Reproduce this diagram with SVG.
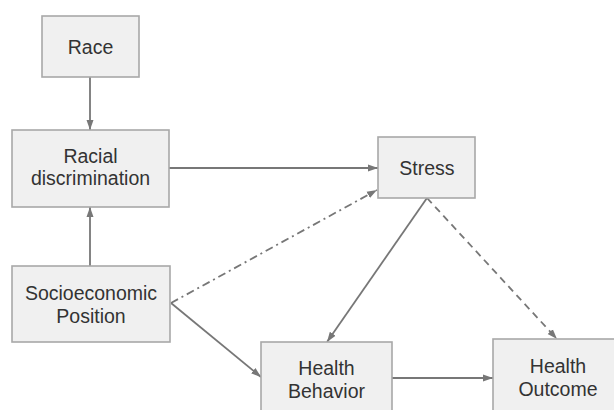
<svg xmlns="http://www.w3.org/2000/svg" width="614" height="410" viewBox="0 0 614 410">
<style>
.box{fill:#f0f0f0;stroke:#a8a8a8;stroke-width:1.6}
.lbl{font-family:"Liberation Sans",Arial,sans-serif;font-size:19.5px;fill:#333;text-anchor:middle}
.ln{fill:none;stroke:#777;stroke-width:1.8}
.dash{stroke-dasharray:7 5}
.dashdot{stroke-dasharray:8 4 2 4}
</style>
<defs>
<marker id="ah" markerUnits="userSpaceOnUse" markerWidth="10" markerHeight="10" viewBox="0 0 10 10" refX="10" refY="5" orient="auto">
<path d="M0,1.5 L10,5 L0,8.5 Z" fill="#777"/>
</marker>
</defs>
<rect width="614" height="410" fill="#fff"/>
<g id="connectors">
<line class="ln" x1="90" y1="77" x2="90" y2="130" marker-end="url(#ah)"/>
<line class="ln" x1="90" y1="266" x2="90" y2="207" marker-end="url(#ah)"/>
<line class="ln" x1="169" y1="168" x2="378" y2="168" marker-end="url(#ah)"/>
<line class="ln dashdot" x1="171" y1="303" x2="377" y2="190" marker-end="url(#ah)"/>
<line class="ln" x1="171" y1="303" x2="261" y2="377" marker-end="url(#ah)"/>
<line class="ln" x1="427" y1="198" x2="327" y2="342" marker-end="url(#ah)"/>
<line class="ln dash" x1="427" y1="198" x2="557" y2="339" marker-end="url(#ah)"/>
<line class="ln" x1="392" y1="378" x2="493" y2="378" marker-end="url(#ah)"/>
</g>
<g id="race">
<rect class="box" x="42" y="16" width="97" height="61"/>
<text class="lbl" x="90.5" y="54">Race</text>
</g>
<g id="racial-discrimination">
<rect class="box" x="12" y="130" width="157" height="77"/>
<text class="lbl" x="90.5" y="163">Racial</text>
<text class="lbl" x="90.5" y="185">discrimination</text>
</g>
<g id="stress">
<rect class="box" x="378" y="137" width="97" height="61"/>
<text class="lbl" x="427" y="175">Stress</text>
</g>
<g id="socioeconomic-position">
<rect class="box" x="12" y="266" width="158" height="76"/>
<text class="lbl" x="91" y="300">Socioeconomic</text>
<text class="lbl" x="91" y="323">Position</text>
</g>
<g id="health-behavior">
<rect class="box" x="261" y="342" width="131" height="80"/>
<text class="lbl" x="326.5" y="375">Health</text>
<text class="lbl" x="326.5" y="398">Behavior</text>
</g>
<g id="health-outcome">
<rect class="box" x="493" y="339" width="130" height="80"/>
<text class="lbl" x="558" y="373">Health</text>
<text class="lbl" x="558" y="396">Outcome</text>
</g>
</svg>
